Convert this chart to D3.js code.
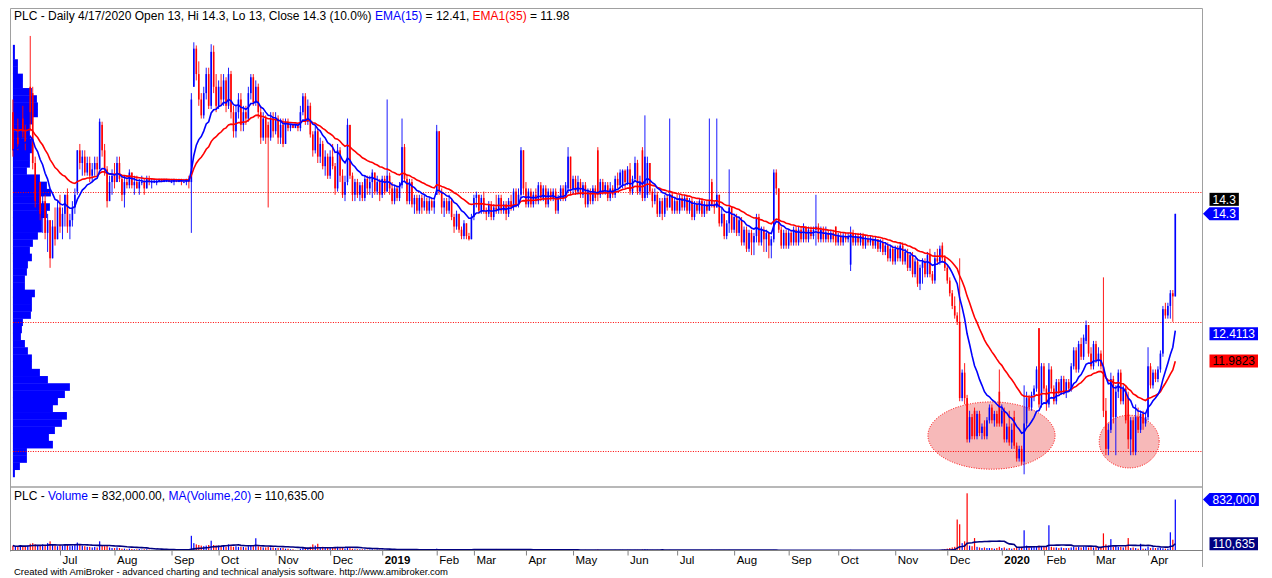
<!DOCTYPE html>
<html>
<head>
<meta charset="utf-8">
<title>PLC - Daily</title>
<script src="https://cdn.jsdelivr.net/npm/d3@7"></script>
<style>
	body { margin: 0; background: #fff; }
	svg text { font-family: Arial, "Liberation Sans", sans-serif; }
</style>
</head>
<body>
<div id="chart"></div>
<script>
// daily bars: [open, high, low, close, volume (thousand shares)]
var bars2018 = [
	[15.9,16.1,15.2,15.3,80],[15.3,15.6,15.1,15.5,60],[15.5,15.8,15.3,15.4,70],[15.4,15.9,15.4,15.8,90],[15.8,16.0,15.5,15.6,60],
	[15.6,15.7,15.3,15.4,70],[15.4,15.9,15.4,15.8,80],[16.3,17.1,15.6,15.9,110],[16.2,16.3,15.0,15.1,120],[15.1,15.2,14.4,14.5,100],
	[14.5,14.9,14.3,14.8,90],[14.8,14.8,14.2,14.3,80],[14.3,14.6,14.0,14.5,100],[14.5,14.6,13.9,14.0,90],[14.0,14.3,13.7,14.2,120],
	[14.2,14.2,13.45,13.6,150],[13.6,14.2,13.6,14.1,100],[14.1,14.4,13.8,13.9,80],[13.9,14.5,13.9,14.4,70],
	// Jul
	[14.4,14.6,14.0,14.1,90],[14.1,14.4,13.9,14.3,80],[14.3,14.6,14.1,14.6,100],[14.6,14.7,14.0,14.1,90],[14.1,14.3,13.9,14.2,70],
	[14.2,14.5,14.1,14.4,80],[14.4,14.7,14.3,14.6,100],[14.65,15.3,14.6,15.3,130],[15.3,15.4,15.0,15.1,90],[15.1,15.3,14.9,15.2,80],
	[15.2,15.3,14.9,14.95,70],[14.95,15.2,14.9,15.1,60],[15.1,15.2,14.8,14.9,60],[14.9,15.1,14.8,15.0,50],[15.0,15.2,14.9,15.1,60],
	[15.1,15.2,14.9,15.0,50],[15.0,15.8,15.0,15.75,150],[15.7,15.75,15.2,15.3,80],[15.3,15.4,14.9,15.0,70],[15.0,15.05,14.4,14.5,90],
	[14.5,14.9,14.5,14.8,50],[14.8,15.0,14.6,14.9,40],
	// Aug
	[14.9,15.1,14.7,14.8,40],[14.8,15.2,14.8,15.1,50],[15.1,15.2,14.8,14.85,40],[14.85,14.9,14.5,14.6,30],[14.6,14.9,14.4,14.8,30],
	[14.8,14.9,14.7,14.75,20],[14.75,15.0,14.7,14.95,30],[14.95,14.95,14.7,14.75,25],[14.75,14.9,14.6,14.8,20],[14.8,14.9,14.7,14.7,20],
	[14.7,14.85,14.6,14.8,25],[14.8,14.9,14.75,14.8,15],[14.8,14.85,14.6,14.7,20],[14.7,14.9,14.7,14.85,20],[14.85,14.9,14.75,14.8,15],
	[14.8,14.85,14.7,14.8,10],[14.8,14.85,14.8,14.8,5],[14.8,14.85,14.75,14.8,10],[14.8,14.85,14.8,14.85,10],[14.85,14.85,14.8,14.8,5],
	[14.8,14.85,14.8,14.85,10],[14.85,14.85,14.8,14.85,5],[14.85,14.85,14.8,14.8,5],
	// Sep
	[14.8,14.85,14.8,14.8,5],[14.8,14.85,14.75,14.85,5],[14.85,14.85,14.8,14.8,5],[14.8,14.85,14.8,14.85,10],[14.85,14.85,14.75,14.8,10],
	[14.8,14.85,14.8,14.8,5],[14.8,14.85,14.75,14.85,10],[14.85,14.9,14.7,14.8,20],[14.8,16.2,14.0,16.1,240],[16.3,17.0,16.3,16.9,120],
	[16.9,16.95,16.4,16.5,100],[16.5,16.7,16.0,16.1,90],[16.1,16.2,15.8,15.85,80],[15.85,16.3,15.8,16.2,70],[16.2,16.6,16.1,16.5,80],
	[16.5,16.6,15.95,16.0,90],[16.0,16.97,15.95,16.85,160],[16.85,16.95,16.2,16.3,90],[16.3,16.5,15.9,16.0,80],
	// Oct
	[16.0,16.4,15.95,16.3,80],[16.3,16.5,16.0,16.1,70],[16.1,16.5,16.0,16.4,90],[16.4,16.45,15.9,16.0,60],[16.0,16.6,15.95,16.5,100],
	[16.5,16.55,15.8,15.9,70],[15.9,16.0,15.5,15.6,60],[15.6,16.0,15.5,15.9,70],[15.9,16.2,15.8,16.1,60],[16.1,16.2,15.6,15.7,60],
	[15.7,16.0,15.6,15.9,60],[15.9,16.0,15.7,15.8,50],[15.8,16.3,15.75,16.2,70],[16.2,16.5,16.1,16.45,80],[16.45,16.5,16.0,16.05,70],
	[16.05,16.4,16.0,16.3,200],[16.3,16.35,15.8,15.9,70],[15.9,16.0,15.4,15.5,60],[15.5,15.9,15.45,15.8,50],[15.8,15.85,15.4,15.5,50],
	[15.7,15.75,14.4,15.5,60],[15.5,15.9,15.45,15.8,50],[15.8,15.9,15.5,15.6,50],
	// Nov
	[15.6,15.9,15.55,15.8,40],[15.8,15.85,15.4,15.5,40],[15.5,15.8,15.4,15.7,40],[15.7,15.8,15.35,15.4,40],[15.4,15.8,15.4,15.75,30],
	[15.75,15.8,15.6,15.65,30],[15.65,15.7,15.6,15.7,20],[15.7,15.7,15.65,15.65,20],[15.65,15.7,15.65,15.7,10],[15.7,15.7,15.6,15.65,10],
	[15.65,16.0,15.6,15.9,30],[15.9,16.2,15.85,16.15,40],[16.15,16.2,15.7,15.75,50],[15.75,16.1,15.7,16.0,40],[16.0,16.05,15.5,15.55,60],
	[15.55,15.6,15.2,15.3,100],[15.3,15.7,15.25,15.6,80],[15.6,15.65,15.1,15.2,110],[15.2,15.5,15.1,15.4,50],[15.4,15.45,15.0,15.05,60],
	[15.05,15.3,14.9,15.2,40],[15.2,15.25,14.85,14.9,50],
	// Dec
	[14.9,15.3,14.85,15.2,40],[15.2,15.4,15.0,15.05,40],[15.05,15.1,14.6,14.7,50],[14.7,15.4,14.65,15.3,60],[15.3,15.35,14.8,14.9,40],
	[14.9,15.0,14.55,14.6,40],[14.6,14.9,14.5,14.8,30],[14.8,15.8,14.75,15.7,50],[15.7,15.7,14.85,14.9,40],[14.9,14.95,14.5,14.6,30],
	[14.6,14.85,14.5,14.8,20],[14.8,14.85,14.55,14.6,20],[14.6,14.8,14.5,14.75,20],[14.75,14.8,14.5,14.55,20],[14.55,14.9,14.5,14.85,20],
	[14.85,14.9,14.6,14.7,15],[14.7,14.9,14.6,14.8,15],[14.8,15.0,14.55,14.95,20],[14.95,14.95,14.6,14.65,15],[14.65,14.9,14.6,14.8,15],
	[14.8,14.85,14.5,14.6,15]
];

var bars2019 = [
	// Jan
	[14.6,14.9,14.55,14.85,15],[14.85,14.9,14.6,14.65,10],[14.65,16.1,14.65,14.9,20],[14.9,14.95,14.6,14.7,10],[14.7,14.8,14.45,14.5,10],
	[14.5,14.75,14.45,14.7,10],[14.7,14.75,14.5,14.55,10],[14.55,14.8,14.5,14.75,10],[14.75,15.8,14.7,15.35,20],[15.35,15.4,14.8,14.85,15],
	[14.85,14.9,14.45,14.5,15],[14.5,14.85,14.45,14.8,10],[14.8,14.85,14.4,14.45,15],[14.45,14.6,14.3,14.55,10],[14.55,14.6,14.3,14.35,10],
	[14.35,14.6,14.3,14.55,10],[14.55,14.6,14.3,14.4,10],[14.4,14.6,14.35,14.5,5],[14.5,14.55,14.3,14.35,10],[14.35,14.55,14.3,14.5,5],
	[14.5,14.55,14.35,14.4,5],[14.4,14.55,14.3,14.5,5],
	// Feb
	[14.6,15.7,14.6,15.6,30],[15.6,15.6,14.6,14.65,20],[14.65,14.7,14.3,14.4,15],[14.4,14.55,14.25,14.5,10],[14.5,14.55,14.3,14.35,10],
	[14.35,14.6,14.3,14.5,10],[14.5,14.55,14.2,14.25,10],[14.25,14.3,14.0,14.1,15],[14.1,14.35,14.05,14.3,10],[14.3,14.3,14.0,14.05,15],
	[14.05,14.1,13.9,13.95,20],[13.95,14.2,13.9,14.15,15],[14.15,14.15,13.9,13.95,20],[13.95,14.0,13.88,13.9,20],[13.9,14.3,13.9,14.25,15],
	// Mar
	[14.25,14.6,14.2,14.55,15],[14.55,14.65,14.4,14.6,10],[14.6,14.6,14.3,14.35,15],[14.35,14.6,14.3,14.55,10],[14.55,14.65,14.3,14.35,20],
	[14.35,14.4,14.2,14.3,15],[14.3,14.5,14.25,14.45,10],[14.45,14.5,14.2,14.25,15],[14.25,14.45,14.2,14.4,10],[14.4,14.6,14.3,14.35,25],
	[14.35,14.6,14.3,14.55,15],[14.55,14.6,14.3,14.35,20],[14.35,14.5,14.3,14.45,10],[14.45,14.5,14.2,14.3,20],[14.3,14.55,14.25,14.5,10],
	[14.5,14.6,14.35,14.4,15],[14.4,14.7,14.35,14.65,10],[14.65,14.7,14.4,14.45,10],[14.45,14.7,14.4,14.6,10],[14.6,15.35,14.55,15.3,20],
	[15.3,15.3,14.6,14.7,15],
	// Apr
	[14.7,14.8,14.4,14.45,10],[14.45,14.7,14.4,14.65,10],[14.65,14.7,14.4,14.45,10],[14.45,14.65,14.4,14.6,5],[14.6,14.7,14.45,14.5,10],
	[14.5,14.8,14.45,14.75,10],[14.75,14.8,14.5,14.55,10],[14.55,14.75,14.5,14.7,5],[14.7,14.75,14.4,14.45,10],[14.45,14.7,14.4,14.65,10],
	[14.65,14.7,14.5,14.55,5],[14.55,14.7,14.5,14.65,5],[14.65,14.7,14.3,14.35,10],[14.35,14.6,14.3,14.55,5],[14.55,14.75,14.5,14.7,10],
	[14.7,14.75,14.5,14.55,10],[14.55,14.8,14.5,14.75,10],[14.7,15.35,14.65,15.2,20],[15.2,15.2,14.6,14.7,15],
	// May
	[14.7,14.9,14.6,14.85,10],[14.85,14.9,14.6,14.65,10],[14.65,14.9,14.6,14.8,10],[14.8,14.85,14.55,14.6,5],[14.6,14.8,14.55,14.75,5],
	[14.75,14.8,14.4,14.45,10],[14.45,14.7,14.4,14.65,5],[14.65,14.7,14.45,14.5,5],[14.5,14.75,14.45,14.7,5],[14.7,14.75,14.5,14.55,10],
	[15.3,15.35,14.5,14.6,15],[14.6,14.85,14.55,14.8,5],[14.8,14.85,14.6,14.65,5],[14.65,14.8,14.6,14.75,5],[14.75,14.8,14.5,14.55,5],
	[14.55,14.8,14.5,14.7,5],[14.7,14.75,14.55,14.6,5],[14.6,14.9,14.55,14.85,10],[14.85,14.95,14.7,14.75,5],[14.75,15.0,14.7,14.95,10],
	[14.75,15.0,14.7,14.98,10],[14.98,15.0,14.7,14.8,5],
	// Jun
	[14.8,15.05,14.75,15.0,10],[15.0,15.1,14.6,14.65,10],[14.65,14.9,14.6,14.85,5],[14.85,15.2,14.8,15.1,10],[15.1,15.15,14.6,14.65,10],
	[14.65,14.9,14.6,14.8,5],[15.3,15.35,14.5,14.55,15],[14.55,15.85,14.5,15.2,20],[14.6,15.2,14.55,15.1,15],[15.1,15.1,14.6,14.65,10],
	[14.65,14.7,14.4,14.5,10],[14.5,14.7,14.45,14.6,5],[14.6,14.65,14.25,14.3,10],[14.3,14.55,14.25,14.5,5],[14.5,14.55,14.2,14.3,10],
	[14.3,14.6,14.25,14.55,5],[14.55,14.6,14.35,14.4,5],[14.4,15.8,14.4,14.6,10],[14.6,14.65,14.3,14.35,5],[14.35,14.55,14.3,14.5,5],
	// Jul
	[14.5,14.6,14.3,14.35,5],[14.35,14.6,14.3,14.55,5],[14.55,14.6,14.35,14.4,5],[14.4,14.6,14.35,14.55,5],[14.55,14.6,14.3,14.35,5],
	[14.35,14.55,14.3,14.5,5],[14.5,14.55,14.2,14.25,5],[14.25,14.5,14.2,14.45,5],[14.45,14.5,14.3,14.35,5],[14.35,14.55,14.3,14.5,5],
	[14.5,14.55,14.25,14.3,5],[14.3,14.5,14.25,14.45,5],[14.45,14.5,14.3,14.35,5],[14.35,15.8,14.35,14.5,10],[14.8,14.85,14.4,14.45,10],
	[14.45,14.5,14.3,14.4,5],[14.4,15.8,14.4,14.6,10],[14.6,14.6,14.1,14.15,10],[14.15,14.4,14.1,14.3,5],[14.3,14.3,13.9,13.95,10],
	[13.95,14.2,13.9,14.15,5],[14.15,15.0,14.0,14.4,10],[14.4,14.4,14.0,14.05,5],
	// Aug
	[14.05,14.3,14.0,14.25,5],[14.25,14.3,13.95,14.0,5],[14.0,14.25,13.95,14.2,5],[14.2,14.25,13.8,13.85,5],[13.85,14.1,13.8,14.05,5],
	[14.05,14.1,13.7,13.75,5],[13.75,14.05,13.7,14.0,5],[14.0,14.05,13.65,13.85,5],[13.85,14.0,13.65,13.95,5],[13.95,14.3,13.85,14.25,5],
	[14.25,14.3,13.8,13.85,5],[13.85,14.1,13.8,14.05,5],[14.05,14.1,13.7,13.9,5],[13.9,14.05,13.7,14.0,5],[14.0,14.0,13.6,13.8,5],
	[13.8,13.95,13.6,13.9,5],[13.9,15.0,13.85,14.95,10],[14.95,15.0,14.6,14.7,5],[14.7,14.7,14.0,14.05,5],[14.05,14.1,13.75,13.8,5],
	[13.8,14.05,13.75,14.0,5],[14.0,14.05,13.75,13.8,5],
	// Sep
	[13.8,14.05,13.75,14.0,5],[14.0,14.05,13.8,13.85,5],[13.85,14.1,13.8,14.05,5],[14.05,14.1,13.8,13.85,5],[13.85,14.1,13.8,14.05,5],
	[14.05,14.1,13.85,13.9,5],[13.9,14.15,13.85,14.1,5],[14.1,14.1,13.85,13.9,5],[13.9,14.1,13.85,14.05,5],[14.05,14.1,13.9,13.95,5],
	[13.95,14.1,13.9,14.05,5],[14.05,14.6,13.8,14.1,5],[14.1,14.15,13.85,13.9,5],[13.9,14.1,13.85,14.05,5],[14.05,14.1,13.85,13.9,5],
	[13.9,14.1,13.85,14.0,5],[14.0,14.05,13.85,13.9,5],[13.9,14.05,13.85,14.0,5],[14.0,14.05,13.85,13.9,5],[14.1,14.1,13.8,13.85,5],
	// Oct
	[13.85,14.0,13.8,13.95,5],[13.95,14.0,13.8,13.85,5],[13.85,14.0,13.8,13.95,5],[13.95,14.0,13.85,13.9,5],[13.9,14.0,13.85,13.95,5],
	[13.5,14.1,13.4,14.0,10],[14.0,14.05,13.8,13.85,5],[13.85,14.0,13.8,13.95,5],[13.95,14.0,13.8,13.85,5],[13.85,14.0,13.8,13.95,5],
	[13.95,14.0,13.75,13.8,5],[13.8,13.95,13.75,13.9,5],[13.9,13.95,13.8,13.85,5],[13.85,13.95,13.8,13.9,5],[13.9,13.95,13.75,13.8,5],
	[13.8,13.95,13.75,13.9,5],[13.9,13.9,13.7,13.75,5],[13.75,13.9,13.7,13.85,5],[13.85,13.9,13.65,13.7,5],[13.7,13.85,13.65,13.8,5],
	[13.8,13.85,13.55,13.6,5],[13.6,13.8,13.55,13.75,5],[13.75,13.8,13.5,13.55,5],
	// Nov
	[13.55,13.8,13.5,13.75,5],[13.75,13.8,13.55,13.6,5],[13.6,13.85,13.55,13.8,5],[13.8,13.85,13.5,13.55,5],[13.55,13.75,13.5,13.7,5],
	[13.7,13.75,13.4,13.45,5],[13.45,13.7,13.4,13.65,5],[13.65,13.7,13.3,13.35,5],[13.35,13.6,13.3,13.55,5],[13.55,13.6,13.15,13.2,5],
	[13.2,13.5,13.1,13.45,5],[13.45,13.6,13.2,13.55,5],[13.55,13.6,13.3,13.35,5],[13.35,13.7,13.3,13.65,5],[13.65,13.75,13.3,13.35,5],
	[13.35,13.4,13.2,13.25,5],[13.25,13.7,13.2,13.6,5],[13.6,13.75,13.5,13.55,5],[13.55,13.8,13.5,13.75,10],[13.8,13.85,13.55,13.6,10],
	[13.6,13.65,13.4,13.45,20],
	// Dec
	[13.45,13.5,13.2,13.25,30],[13.25,13.3,13.0,13.05,40],[13.05,13.1,12.8,12.85,50],[12.85,13.0,12.65,12.7,60],[12.7,12.75,12.55,12.6,506],
	[12.6,13.6,11.35,11.4,428],[11.4,11.85,11.35,11.8,120],[11.8,11.95,11.3,11.4,150],[11.4,11.45,10.7,10.75,934],[10.75,11.2,10.7,11.1,80],
	[11.1,11.15,10.75,10.8,70],[11.2,11.25,10.75,10.8,203],[10.8,11.2,10.75,11.15,60],[11.15,11.2,10.8,10.85,50],[10.85,11.0,10.75,10.95,40],
	[10.95,11.05,10.75,10.8,50],[10.8,11.1,10.75,11.05,40],[11.05,11.3,11.0,11.25,40],[11.25,11.3,11.0,11.05,40],[11.05,11.2,10.95,11.15,30],
	[11.15,11.2,10.95,11.0,40],[11.5,11.85,10.95,11.0,60]
];

var bars2020 = [
	// Jan
	[11.0,11.3,10.95,11.2,40],[11.2,11.25,10.7,10.75,50],[10.75,11.0,10.7,10.95,30],[10.95,11.2,10.65,10.7,40],[10.7,11.0,10.6,10.9,30],
	[11.1,11.2,10.6,10.65,40],[10.65,10.7,10.4,10.45,50],[10.45,10.65,10.4,10.6,40],[10.6,10.65,10.35,10.4,60],[10.4,11.6,10.2,11.0,330],
	[11.0,11.5,10.95,11.4,80],[11.4,11.45,11.2,11.25,50],[11.25,11.5,11.2,11.45,50],[11.45,11.6,11.35,11.55,60],[11.55,11.9,11.5,11.85,70],
	[12.5,12.5,11.25,11.3,80],[11.3,11.95,11.25,11.9,70],
	// Feb
	[11.9,11.95,11.5,11.55,60],[11.55,11.6,11.2,11.3,70],[11.3,11.95,11.25,11.85,412],[11.85,11.9,11.5,11.55,60],[11.55,11.6,11.3,11.35,50],
	[11.35,11.7,11.3,11.65,50],[11.65,11.7,11.45,11.5,40],[11.5,11.75,11.45,11.7,50],[11.7,11.75,11.45,11.5,40],[11.5,11.7,11.4,11.65,40],
	[11.65,11.7,11.5,11.55,40],[11.55,11.95,11.5,11.9,50],[11.9,12.2,11.85,12.15,60],[12.15,12.2,11.8,11.85,50],[11.85,12.3,11.8,12.25,60],
	[12.25,12.35,12.0,12.05,50],[12.05,12.4,12.0,12.35,60],[12.3,12.62,12.25,12.55,70],[12.55,12.55,12.05,12.1,50],[12.1,12.2,11.85,11.9,60],
	// Mar
	[11.9,12.3,11.85,12.25,50],[12.25,12.3,11.95,12.0,60],[12.0,12.2,11.9,12.1,40],[12.1,12.15,11.85,11.9,50],[11.9,13.3,11.1,11.2,280],
	[11.2,11.4,10.5,10.6,100],[10.6,11.0,10.5,10.9,80],[10.9,11.8,10.85,11.7,186],[11.7,11.75,11.0,11.1,60],[11.1,11.6,10.5,11.5,70],
	[11.5,11.85,11.4,11.8,60],[11.8,11.85,11.3,11.35,60],[11.35,11.6,11.3,11.55,50],[11.55,11.6,11.0,11.05,70],[11.4,11.5,10.6,10.75,203],
	[10.75,11.1,10.5,11.05,40],[11.05,11.1,10.5,10.55,50],[10.55,11.3,10.5,11.1,40],[11.1,11.25,10.85,10.9,30],[10.9,11.2,10.85,11.15,110],
	[11.15,11.2,10.9,11.0,30],[11.0,11.15,10.95,11.1,30],
	// Apr
	[11.1,12.2,11.05,11.9,64.7],[11.9,11.95,11.55,11.6,40],[11.6,11.85,11.55,11.8,50],[11.8,11.85,11.65,11.7,40],[11.7,11.9,11.65,11.85,45],
	[11.85,12.15,11.8,12.1,40],[12.1,12.85,12.05,12.8,35],[12.8,12.9,12.65,12.7,30],[12.7,12.9,12.65,12.85,30],[12.85,13.1,12.65,13.05,297],
	[13.05,13.1,12.6,13.0,176],[13.0,14.3,13.0,14.3,832]
];

var firstDay = "2018-06-05",
    lastDay = "2020-04-17";
var holidays = ["2018-09-03", "2019-01-01", "2019-02-04", "2019-02-05", "2019-02-06", "2019-02-07", "2019-02-08",
    "2019-04-15", "2019-04-29", "2019-04-30", "2019-05-01", "2019-09-02", "2020-01-01",
    "2020-01-23", "2020-01-24", "2020-01-27", "2020-01-28", "2020-01-29", "2020-04-02"];
var monthNames = ["Jan", "Feb", "Mar", "Apr", "May", "Jun", "Jul", "Aug", "Sep", "Oct", "Nov", "Dec"];

var priceRange = [10, 17.54];
var emaPeriods = [15, 35];
var emaStart = [15.3, 15.65];          // EMA values carried in from before the first bar
var emaReadout = [12.4113, 11.9823];   // values printed by the chart
var levels = [14.65, 12.59, 10.57];    // dotted horizontal lines
// highlighted zones: [first bar, last bar, low price, high price]
var zones = [[369.2, 420.5, 10.28, 11.34], [438.3, 462.5, 10.30, 11.13]];
// volume at price, from the top bin down
var vapTop = 16.96,
    vapBottom = 10.16;
var vapVolume = [2, 2, 5, 5, 10, 10, 19, 24, 25, 25, 20, 17, 17, 19, 19, 17, 17, 14, 27, 34,
    38, 27, 37, 34, 29, 29, 25, 20, 17, 19, 15, 14, 12, 12, 22, 19, 19, 18, 10, 9,
    8, 12, 15, 19, 19, 27, 35, 57, 52, 45, 40, 54, 49, 42, 36, 40, 14, 14, 7, 2];

var chartW = 1272, chartH = 578,
    frameLeft = 10, frameRight = 1202, frameTop = 8,
    paneBottom = 487, volBottom = 550.5,
    blue = "#0000ff", red = "#ff0000", grey = "#a0a0a0";

var bars = bars2018.concat(bars2019, bars2020),
    n = bars.length,
    closes = bars.map(function(d) { return d[3]; }),
    vols = bars.map(function(d) { return d[4]; });

// trading days: weekdays without exchange holidays
var parseDay = d3.timeParse("%Y-%m-%d"),
    formatDay = d3.timeFormat("%Y-%m-%d"),
    closedDays = new Set(holidays);
var dates = d3.timeDay.range(parseDay(firstDay), d3.timeDay.offset(parseDay(lastDay), 1))
    .filter(function(d) { var w = d.getDay(); return w > 0 && w < 6 && !closedDays.has(formatDay(d)); });
if (dates.length !== n) console.warn("dates " + dates.length + " vs bars " + n);

var monthStarts = d3.range(1, n).filter(function(i) { return dates[i].getMonth() !== dates[i - 1].getMonth(); });

function ema(vals, period, seed) {
	var k = 2 / (period + 1), e = seed;
	return vals.map(function(v) { e = e + (v - e) * k; return e; });
}
var emaFast = ema(closes, emaPeriods[0], emaStart[0]),
    emaSlow = ema(closes, emaPeriods[1], emaStart[1]);
var volMa = vols.map(function(v, i) { return d3.mean(vols.slice(Math.max(0, i - 19), i + 1)); });

var x = d3.scaleLinear().domain([0, n - 1]).range([12.9, 1175.3]);
var y = d3.scaleLinear().domain(priceRange).range([paneBottom, frameTop]);
var yv = d3.scaleLinear().domain([0, d3.max(vols) * 1.11]).range([volBottom, paneBottom]);

var svg = d3.select("#chart").append("svg")
    .attr("width", chartW)
    .attr("height", chartH);

// volume at price profile
var vapW = d3.scaleLinear().domain([0, d3.max(vapVolume)]).range([0, 57]);
var binH = (y(vapBottom) - y(vapTop)) / vapVolume.length;
svg.append("g").selectAll("rect")
    .data(vapVolume)
  .enter().append("rect")
    .attr("x", x(0))
    .attr("y", function(d, i) { return y(vapTop) + i * binH; })
    .attr("width", function(d) { return vapW(d); })
    .attr("height", binH + 0.4)
    .attr("fill", blue);

// highlighted zones
svg.append("g").selectAll("ellipse")
    .data(zones)
  .enter().append("ellipse")
    .attr("cx", function(d) { return (x(d[0]) + x(d[1])) / 2; })
    .attr("cy", function(d) { return (y(d[2]) + y(d[3])) / 2; })
    .attr("rx", function(d) { return (x(d[1]) - x(d[0])) / 2; })
    .attr("ry", function(d) { return (y(d[2]) - y(d[3])) / 2; })
    .attr("fill", "#f08080")
    .attr("fill-opacity", 0.55)
    .attr("stroke", red)
    .attr("stroke-dasharray", "1,1.5");

// dotted levels
svg.append("g").selectAll("line")
    .data(levels)
  .enter().append("line")
    .attr("x1", x(0))
    .attr("x2", frameRight)
    .attr("y1", function(d) { return Math.round(y(d)) + 0.5; })
    .attr("y2", function(d) { return Math.round(y(d)) + 0.5; })
    .attr("stroke", red)
    .attr("stroke-dasharray", "1,1.5");

// candles
var candle = svg.append("g").selectAll("g")
    .data(bars)
  .enter().append("g")
    .attr("fill", function(d) { return d[3] >= d[0] ? blue : red; })
    .attr("stroke", function(d) { return d[3] >= d[0] ? blue : red; });

candle.append("line")
    .attr("x1", function(d, i) { return x(i); })
    .attr("x2", function(d, i) { return x(i); })
    .attr("y1", function(d) { return y(d[1]); })
    .attr("y2", function(d) { return y(d[2]); })
    .attr("stroke-width", 0.9);

candle.append("rect")
    .attr("x", function(d, i) { return x(i) - 0.8; })
    .attr("y", function(d) { return y(Math.max(d[0], d[3])); })
    .attr("width", 1.6)
    .attr("height", function(d) { return Math.max(1, Math.abs(y(d[0]) - y(d[3]))); })
    .attr("stroke", "none");

// moving averages
var line = d3.line()
    .x(function(d, i) { return x(i); })
    .y(function(d) { return y(d); });

svg.append("path").attr("d", line(emaSlow)).attr("fill", "none").attr("stroke", red).attr("stroke-width", 1.6);
svg.append("path").attr("d", line(emaFast)).attr("fill", "none").attr("stroke", blue).attr("stroke-width", 1.6);

// volume pane
svg.append("g").selectAll("rect")
    .data(bars)
  .enter().append("rect")
    .attr("x", function(d, i) { return x(i) - 0.6; })
    .attr("y", function(d) { return yv(d[4]); })
    .attr("width", 1.2)
    .attr("height", function(d) { return volBottom - yv(d[4]); })
    .attr("fill", function(d) { return d[3] >= d[0] ? blue : red; });

svg.append("path")
    .attr("d", d3.line().x(function(d, i) { return x(i); }).y(function(d) { return yv(d); })(volMa))
    .attr("fill", "none")
    .attr("stroke", "#000080")
    .attr("stroke-width", 1.6);

// frame
var frame = svg.append("g").attr("stroke", grey).attr("fill", "none");
frame.append("path").attr("d", "M" + (frameLeft + 0.5) + "," + (volBottom + 1) + "V" + (frameTop + 0.5) + "H" + (frameRight + 0.5) + "V567");
frame.append("line").attr("x1", frameLeft).attr("x2", frameRight).attr("y1", paneBottom).attr("y2", paneBottom).attr("stroke-width", 1.5);
frame.append("line").attr("x1", frameLeft).attr("x2", frameRight + 1).attr("y1", volBottom).attr("y2", volBottom).attr("stroke", "#808080");

// date axis
var xAxis = d3.axisBottom(x)
    .tickValues(monthStarts)
    .tickSize(5)
    .tickFormat(function(i) { var d = dates[i]; return d.getMonth() === 0 ? d.getFullYear() : monthNames[d.getMonth()]; });

var gx = svg.append("g")
    .attr("transform", "translate(0," + volBottom + ")")
    .call(xAxis)
    .attr("font-size", null)
    .attr("font-family", null);
gx.select(".domain").remove();
gx.selectAll(".tick line").attr("stroke", "#808080");
gx.selectAll(".tick text")
    .attr("x", 2)
    .attr("y", 5.5)
    .attr("text-anchor", "start")
    .attr("fill", "#000")
    .style("font-size", "11.5px")
    .style("font-weight", function(i) { return dates[i].getMonth() === 0 ? "bold" : "normal"; });

// titles
var last = bars[n - 1], prev = bars[n - 2];
var title = svg.append("text").attr("x", 14).attr("y", 20).style("font-size", "12px");
title.append("tspan").text("PLC - Daily " + d3.timeFormat("%-m/%-d/%Y")(dates[n - 1]) +
    " Open " + last[0] + ", Hi " + last[1] + ", Lo " + last[2] + ", Close " + last[3] +
    " (" + d3.format(".1%")((last[3] - prev[3]) / prev[3]) + ") ");
title.append("tspan").attr("fill", blue).text("EMA(" + emaPeriods[0] + ")");
title.append("tspan").text(" = " + emaReadout[0].toFixed(2) + ", ");
title.append("tspan").attr("fill", red).text("EMA1(" + emaPeriods[1] + ")");
title.append("tspan").text(" = " + emaReadout[1].toFixed(2));

var volTitle = svg.append("text").attr("x", 14).attr("y", 500).style("font-size", "12px");
volTitle.append("tspan").text("PLC - ");
volTitle.append("tspan").attr("fill", blue).text("Volume");
volTitle.append("tspan").text(" = " + d3.format(",.2f")(last[4] * 1000) + ", ");
volTitle.append("tspan").attr("fill", blue).text("MA(Volume,20)");
volTitle.append("tspan").text(" = " + d3.format(",.2f")(volMa[n - 1] * 1000));

svg.append("text")
    .attr("x", 14)
    .attr("y", 575)
    .style("font-size", "9.5px")
    .text("Created with AmiBroker - advanced charting and technical analysis software. http://www.amibroker.com");

// value labels on the right
var placed = [];
function valueLabel(yc, txt, fill, color, arrow) {
	placed.forEach(function(p) { if (Math.abs(p - yc) < 13.5) yc = p - 14.5; });
	placed.push(yc);
	var g = svg.append("g").attr("transform", "translate(1209.5," + yc + ")");
	var t = g.append("text")
	    .attr("x", 3)
	    .attr("dy", "0.36em")
	    .style("font-size", "12px")
	    .attr("fill", color)
	    .text(txt);
	var w = t.node().getComputedTextLength() + 6;
	g.insert("path", "text")
	    .attr("d", (arrow ? "M-6.5,0L0,-6.5" : "M0,-6.5") + "H" + w + "V6.5H0Z")
	    .attr("fill", fill);
}
valueLabel(y(last[3]), String(last[3]), blue, "#fff", true);
valueLabel(y(last[3]), String(last[3]), "#000", "#fff", false);
valueLabel(y(emaReadout[0]), emaReadout[0].toFixed(4), blue, "#fff", false);
valueLabel(y(emaReadout[1]), emaReadout[1].toFixed(4), red, "#000", false);
placed = [];
valueLabel(yv(last[4]), d3.format(",")(last[4] * 1000), blue, "#fff", true);
valueLabel(yv(volMa[n - 1]), d3.format(",.0f")(volMa[n - 1] * 1000), "#000080", "#fff", false);
</script>
</body>
</html>
